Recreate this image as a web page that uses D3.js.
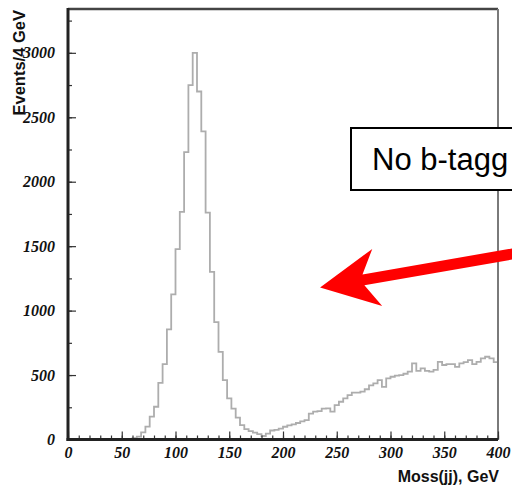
<!DOCTYPE html>
<html>
<head>
<meta charset="utf-8">
<script src="https://cdn.jsdelivr.net/npm/d3@7"></script>
<style>
  html, body { margin: 0; padding: 0; background: #fff; }
  svg { display: block; }
</style>
</head>
<body>
<svg id="chart" width="512" height="489"></svg>
<script>
// ---------- data ----------
const binWidth = 4; // GeV
const counts = [
  0, 0, 0, 0, 0, 0, 0, 0, 0, 0,
  0, 0, 0, 0, 3, 10, 22, 55, 100, 177,
  254, 440, 585, 854, 1126, 1477, 1766, 2230, 2750, 3000,
  2700, 2390, 1760, 1300, 910, 680, 461, 319, 240, 170,
  112, 80, 65, 53, 42, 27, 45, 70, 74, 85,
  99, 110, 118, 128, 140, 150, 200, 216, 220, 240,
  242, 216, 267, 293, 319, 345, 363, 363, 371, 390,
  420, 436, 461, 409, 474, 487, 495, 500, 510, 526,
  591, 533, 552, 533, 526, 540, 603, 578, 585, 585,
  564, 591, 600, 616, 585, 603, 630, 642, 630, 600
];
const xTickLabels = [0, 50, 100, 150, 200, 250, 300, 350, 400];
const yTickLabels = [0, 500, 1000, 1500, 2000, 2500, 3000];
const xMinorTicks = d3.range(0, 401, 10);
const yMinorTicks = d3.range(0, 3251, 250);
const yAxisTitle = "Events/4 GeV";
const xAxisTitle = "Moss(jj), GeV";
const boxText = "No b-tagg";
// annotation arrow in data coordinates (GeV, events)
const arrowTip = [234.5, 1180];
const arrowTail = [455, 1500];

// ---------- layout ----------
const svg = d3.select("#chart");
const x = d3.scaleLinear().domain([0, 400]).range([68, 498]);
const y = d3.scaleLinear().domain([0, 3340]).range([439.5, 9]);

const tickFont = "'Liberation Serif', 'Times New Roman', serif";
const sansFont = "'Liberation Sans', Arial, Helvetica, sans-serif";

// ---------- histogram ----------
const pts = counts.map((c, i) => [i * binWidth, c]);
pts.push([counts.length * binWidth, counts[counts.length - 1]]);
const line = d3.line()
  .x(d => x(d[0]))
  .y(d => y(d[1]))
  .curve(d3.curveStepAfter);
svg.append("path")
  .datum(pts)
  .attr("d", line)
  .attr("fill", "none")
  .attr("stroke", "#adadad")
  .attr("stroke-width", 1.8);

// ---------- frame ----------
svg.append("line").attr("x1", x(0)).attr("x2", x(400)).attr("y1", y(3340)).attr("y2", y(3340))
  .attr("stroke", "#444").attr("stroke-width", 2.5);
svg.append("line").attr("x1", x(400)).attr("x2", x(400)).attr("y1", y(3340)).attr("y2", y(0))
  .attr("stroke", "#7a7a7a").attr("stroke-width", 2);

// ---------- y axis ----------
const yMinor = svg.append("g").attr("transform", `translate(${x(0)},0)`)
  .call(d3.axisLeft(y).tickValues(yMinorTicks).tickSize(-4).tickFormat(""));
yMinor.select(".domain").remove();
yMinor.selectAll("line").attr("stroke", "#333").attr("stroke-width", 1.2);

const yMajor = svg.append("g").attr("transform", `translate(${x(0)},0)`)
  .call(d3.axisLeft(y).tickValues(yTickLabels).tickSize(-8).tickPadding(13).tickFormat(d3.format("d")));
yMajor.select(".domain").remove();
yMajor.selectAll("line").attr("stroke", "#333").attr("stroke-width", 1.2);
yMajor.selectAll("text")
  .attr("font-family", tickFont).attr("font-weight", "bold").attr("font-style", "italic")
  .attr("font-size", 16).attr("fill", "#111");

// ---------- x axis ----------
const xMinor = svg.append("g").attr("transform", `translate(0,${y(0)})`)
  .call(d3.axisBottom(x).tickValues(xMinorTicks).tickSize(-4).tickFormat(""));
xMinor.select(".domain").remove();
xMinor.selectAll("line").attr("stroke", "#333").attr("stroke-width", 1.2);

const xMajor = svg.append("g").attr("transform", `translate(0,${y(0)})`)
  .call(d3.axisBottom(x).tickValues(xTickLabels).tickSize(-8).tickPadding(7).tickFormat(d3.format("d")));
xMajor.select(".domain").remove();
xMajor.selectAll("line").attr("stroke", "#333").attr("stroke-width", 1.2);
xMajor.selectAll("text")
  .attr("font-family", tickFont).attr("font-weight", "bold").attr("font-style", "italic")
  .attr("font-size", 16).attr("fill", "#111");

// thick left & bottom axis lines
svg.append("line").attr("x1", x(0)).attr("x2", x(0)).attr("y1", y(3340) - 1).attr("y2", y(0) + 1.5)
  .attr("stroke", "#222").attr("stroke-width", 3);
svg.append("line").attr("x1", x(0) - 1.5).attr("x2", x(400)).attr("y1", y(0)).attr("y2", y(0))
  .attr("stroke", "#222").attr("stroke-width", 3);

// ---------- axis titles ----------
svg.append("text")
  .attr("transform", `translate(25,10) rotate(-90)`)
  .attr("text-anchor", "end")
  .attr("font-family", sansFont).attr("font-weight", "bold").attr("font-size", 16.5)
  .attr("fill", "#111")
  .text(yAxisTitle);

svg.append("text")
  .attr("x", 499).attr("y", 482)
  .attr("text-anchor", "end")
  .attr("font-family", sansFont).attr("font-weight", "bold").attr("font-size", 16)
  .attr("fill", "#111")
  .text(xAxisTitle);

// ---------- annotation box ----------
svg.append("rect")
  .attr("x", 351).attr("y", 128).attr("width", 200).attr("height", 62)
  .attr("fill", "#fff").attr("stroke", "#000").attr("stroke-width", 2);
svg.append("text")
  .attr("x", 372).attr("y", 170)
  .attr("font-family", sansFont).attr("font-size", 31).attr("fill", "#000")
  .text(boxText);

// ---------- red arrow ----------
const tip = [x(arrowTip[0]), y(arrowTip[1])];
const tail = [x(arrowTail[0]), y(arrowTail[1])];
const dx = tail[0] - tip[0], dy = tail[1] - tip[1];
const len = Math.hypot(dx, dy);
const u = [dx / len, dy / len];
const n = [-u[1], u[0]];
const P = (a, b) => [tip[0] + u[0] * a + n[0] * b, tip[1] + u[1] * a + n[1] * b];
const headL = 58, headW = 29, notch = 44, shaftW = 5.5;
const poly = [
  P(0, 0),
  P(headL, -headW),
  P(notch, -shaftW),
  P(len, -shaftW),
  P(len, shaftW),
  P(notch, shaftW),
  P(headL, headW)
];
svg.append("path")
  .attr("d", "M" + poly.map(p => p.join(",")).join("L") + "Z")
  .attr("fill", "#ff0000").attr("stroke", "none");
</script>
</body>
</html>
